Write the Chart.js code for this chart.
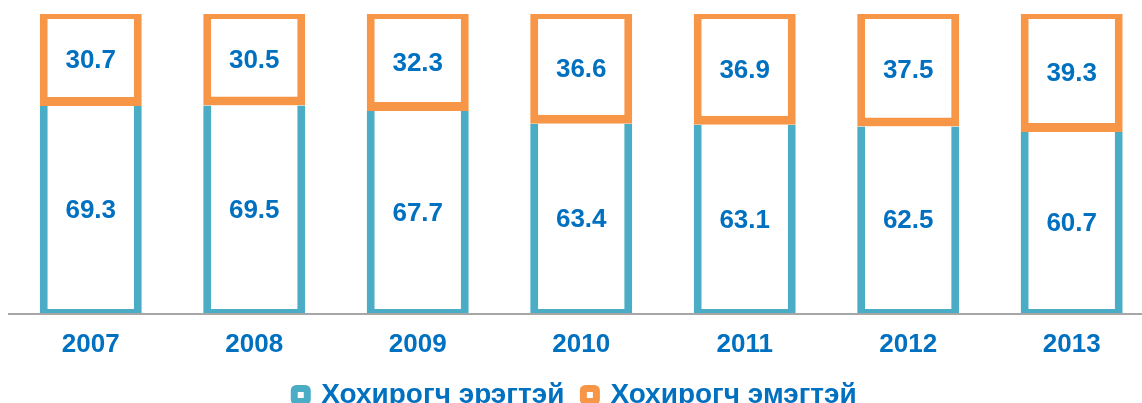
<!DOCTYPE html>
<html lang="mn">
<head>
    <meta charset="UTF-8">
    <title>Хохирогч</title>
    <script src="https://cdn.jsdelivr.net/npm/chart.js"></script>
    <style>
        body { margin: 0; background: #fff; }
        .chart-container { position: relative; width: 1142px; height: 403px; }
    </style>
</head>
<body>
    <div class="chart-container">
        <canvas id="chart"></canvas>
    </div>

    <script>
        // Data
        const years = [2007, 2008, 2009, 2010, 2011, 2012, 2013];
        const men = [69.3, 69.5, 67.7, 63.4, 63.1, 62.5, 60.7];
        const women = [30.7, 30.5, 32.3, 36.6, 36.9, 37.5, 39.3];
        const seriesNames = ['Хохирогч эрэгтэй', 'Хохирогч эмэгтэй'];

        const blue = '#4BACC6';
        const orange = '#F79646';
        const textBlue = '#0070C0';
        const fontFamily = '"Liberation Sans", Arial, sans-serif';

        // values written in the middle of each bar
        const barLabels = {
            id: 'barLabels',
            afterDatasetsDraw(chart) {
                const ctx = chart.ctx;
                ctx.save();
                ctx.font = 'bold 26px ' + fontFamily;
                ctx.fillStyle = textBlue;
                ctx.textAlign = 'center';
                ctx.textBaseline = 'middle';
                chart.data.datasets.forEach((ds, i) => {
                    chart.getDatasetMeta(i).data.forEach((bar, j) => {
                        const p = bar.getProps(['x', 'y', 'base'], true);
                        ctx.fillText(ds.data[j].toFixed(1), p.x, (p.y + p.base) / 2 + 1);
                    });
                });
                ctx.restore();
            }
        };

        new Chart(document.getElementById('chart'), {
            type: 'bar',
            data: {
                labels: years,
                datasets: [{
                    label: seriesNames[0],
                    data: men,
                    backgroundColor: '#ffffff',
                    borderColor: blue,
                    borderWidth: { top: 0, left: 8, right: 8, bottom: 5 },
                    borderSkipped: false,
                    barPercentage: 0.624,
                    categoryPercentage: 1
                }, {
                    label: seriesNames[1],
                    data: women,
                    backgroundColor: '#ffffff',
                    borderColor: orange,
                    borderWidth: { top: 5, left: 8, right: 8, bottom: 9 },
                    borderSkipped: false,
                    barPercentage: 0.624,
                    categoryPercentage: 1
                }]
            },
            options: {
                responsive: true,
                maintainAspectRatio: false,
                animation: false,
                layout: {
                    padding: { top: 14, left: 9, right: 0, bottom: -16 }
                },
                scales: {
                    x: {
                        type: 'linear',
                        stacked: true,
                        offset: false,
                        bounds: 'data',
                        min: 2006.5,
                        max: 2013.43,
                        grid: { display: false, drawTicks: false },
                        border: { display: true, color: '#A6A6A6', width: 2, z: 1 },
                        afterBuildTicks: (scale) => {
                            scale.ticks = years.map(y => ({ value: y }));
                        },
                        ticks: {
                            autoSkip: false,
                            maxRotation: 0,
                            color: textBlue,
                            padding: 15,
                            font: { family: fontFamily, size: 26, weight: 'bold' },
                            callback: (v) => String(v)
                        },
                        afterFit: (scale) => { scale.height = 48; }
                    },
                    y: {
                        stacked: true,
                        display: false,
                        min: 0,
                        max: 100
                    }
                },
                plugins: {
                    tooltip: { enabled: false },
                    legend: {
                        position: 'bottom',
                        labels: {
                            color: textBlue,
                            padding: 19,
                            boxWidth: 13,
                            boxHeight: 13,
                            font: { family: fontFamily, size: 28, weight: 'bold' },
                            generateLabels: (chart) => chart.data.datasets.map((ds, i) => ({
                                text: ds.label,
                                fillStyle: '#ffffff',
                                strokeStyle: ds.borderColor,
                                lineWidth: 7,
                                borderRadius: 2,
                                fontColor: textBlue,
                                hidden: false,
                                datasetIndex: i
                            }))
                        }
                    }
                }
            },
            plugins: [barLabels]
        });
    </script>
</body>
</html>
